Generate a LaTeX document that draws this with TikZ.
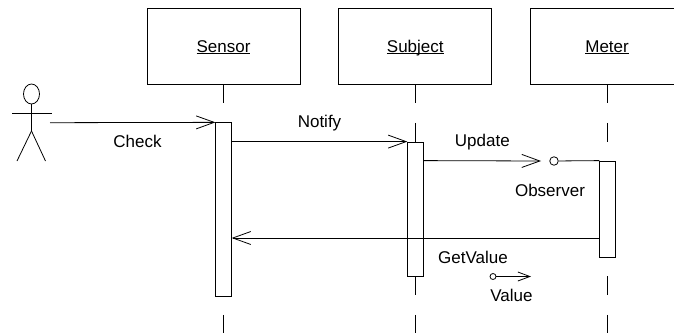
\documentclass[tikz,border=0pt]{standalone}
\usepackage{fontspec}
\setmainfont{Liberation Sans}
\usetikzlibrary{arrows.meta,positioning,shapes.geometric}
\tikzset{
seq/.style={x=1pt,y=-1pt,>={Straight Barb[length=18pt,width=13pt]},line width=0.8pt,
    font=\fontsize{17}{20}\selectfont,node distance=38pt},
object/.style={rectangle,draw,minimum width=153pt,minimum height=76pt,text height=12pt,text depth=0pt},
lifeline/.style={dash pattern=on 19pt off 19.4pt},
bar/.style={rectangle,draw,fill=white,minimum width=15.5pt,inner sep=0pt},
port/.style={circle,draw,inner sep=0pt,minimum size=#1},
port/.default={8.5pt},
msg/.style={inner sep=0pt,text height=12pt,text depth=0pt},
}
\begin{document}
\begin{tikzpicture}[seq]

    \path[clip,use as bounding box] (0,0) rectangle (674,332);

    \node[object] (sensor) at (223.5,46) {\underline{\smash{Sensor}}};
    \node[object] (subject) [right=of sensor] {\underline{\smash{Subject}}};
    \node[object] (meter) [right=of subject] {\underline{\smash{Meter}}};
    \coordinate (bottom) at (0,334);

    \path[lifeline]
        (sensor) edge (sensor |- bottom)
        (subject) edge (subject |- bottom)
        (meter) edge (meter |- bottom)
    ;

    \node[bar,minimum height=173.5pt] (sensorbar) at (223.5,209.5) {};
    \node[bar,minimum height=134pt] (subjectbar) at (415.5,209) {};
    \node[bar,minimum height=96pt] (meterbar) at (607.5,209) {};

    % actor
    \node[ellipse,draw,minimum width=16pt,minimum height=20pt,inner sep=0pt] (head) at (31.5,94) {};
    \coordinate (hip) at (31.5,131);
    \coordinate (armleft) at (12,113.7);
    \coordinate (armright) at (51.7,113.7);
    \coordinate (footleft) at (17,161);
    \coordinate (footright) at (45.5,161);
    \path[-]
        (head) edge (hip)
        (armleft) edge (armright)
        (hip) edge (footleft)
              edge (footright)
    ;

    \coordinate (hand) at (50,122.7);
    \coordinate (return) at (meterbar.west |- 0,238);
    \coordinate (updateend) at (541,161);
    \node[port] (observer) at (554,161) {};
    \node[port=6pt] (value) at (493,276.5) {};
    \coordinate (valueend) at (531,276.5);

    \path[->]
        (hand) edge (sensorbar.north west)
        (sensorbar.east |- subjectbar.north) edge node[msg,above=14pt] {Notify} (subjectbar.north west)
        (subjectbar.east |- meterbar.north) edge node[msg,above=14pt] {Update} (updateend)
        (return) edge (return -| sensorbar.east)
    ;
    \path[-] (observer) edge (meterbar.north west);
    \draw[-{Straight Barb[length=12pt,width=9pt]}] (value) -- (valueend);

    \node[msg] (check) at (137.5,141) {Check};
    \node[msg] (observerlabel) at (550,190) {Observer};
    \node[msg] (getvalue) at (473,257) {GetValue};
    \node[msg] (valuelabel) at (511.5,295) {Value};

\end{tikzpicture}
\end{document}
